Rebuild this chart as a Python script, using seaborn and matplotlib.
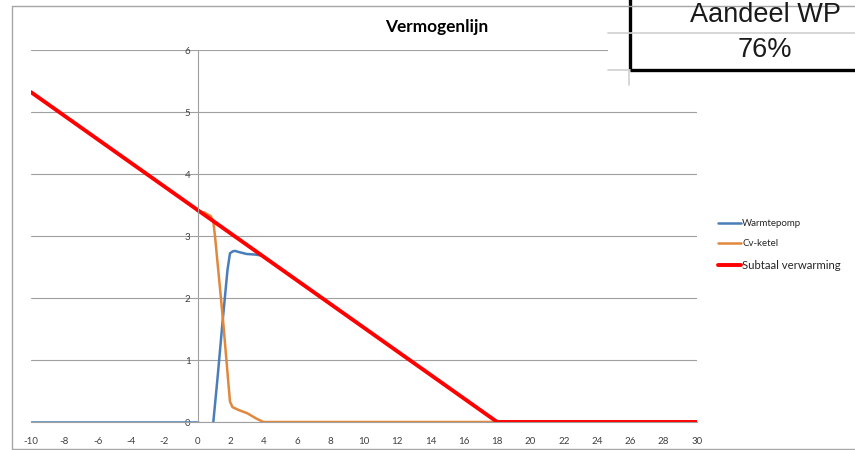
import matplotlib
matplotlib.use("Agg")
import matplotlib.pyplot as plt
from matplotlib.lines import Line2D
from matplotlib.patches import Rectangle
import seaborn as sns

sns.set_theme(style="white")
plt.rcParams['font.family'] = ['Lato', 'DejaVu Sans']

# Warmtepomp (heat pump) - two pieces, gap between 0 and 1
wp_x1 = [-10, 0]
wp_y1 = [0, 0]
wp_x2 = [0.95, 1.2, 1.5, 1.8, 1.95, 2.1, 2.25, 2.5, 2.95, 3.5, 3.95]
wp_y2 = [0.0, 0.7, 1.6, 2.45, 2.72, 2.75, 2.76, 2.74, 2.71, 2.70, 2.68]

# Cv-ketel (boiler)
cv_x = [0, 0.4, 0.8, 0.95, 1.05, 1.3, 1.55, 1.8, 1.95, 2.1, 2.5, 3.0, 3.5, 3.95, 5, 10, 18, 30]
cv_y = [3.40, 3.38, 3.32, 3.23, 3.00, 2.30, 1.59, 0.80, 0.33, 0.24, 0.19, 0.14, 0.06, 0.0, 0.0, 0.0, 0.0, 0.0]

# Subtaal verwarming
sub_x = [-10, -5, 0, 5, 10, 15, 17, 18, 19, 30]
sub_y = [5.32, 4.37, 3.42, 2.47, 1.52, 0.57, 0.19, 0.0, 0.0, 0.0]

x_ticks = list(range(-10, 31, 2))
y_ticks = [0, 1, 2, 3, 4, 5, 6]

BLUE = '#4A7EBB'
ORANGE = '#E2883C'
RED = '#FF0000'
GRID = '#A0A0A0'
CELL = '#D0D0D0'

fig = plt.figure(figsize=(8.55, 4.5), dpi=100)
ax = fig.add_axes([31 / 855, 28 / 450, 666 / 855, 372 / 450])

sns.lineplot(x=wp_x1, y=wp_y1, color=BLUE, lw=1.8, sort=False, estimator=None, ax=ax)
sns.lineplot(x=wp_x2, y=wp_y2, color=BLUE, lw=1.8, sort=False, estimator=None, ax=ax)
sns.lineplot(x=cv_x, y=cv_y, color=ORANGE, lw=1.8, sort=False, estimator=None, ax=ax)
sns.lineplot(x=sub_x, y=sub_y, color=RED, lw=2.8, sort=False, estimator=None, ax=ax)

ax.set_xlim(-10, 30)
ax.set_ylim(0, 6)
ax.set_xticks(x_ticks)
ax.set_yticks(y_ticks)
ax.set_xticklabels([str(v) for v in x_ticks])
ax.set_yticklabels([str(v) for v in y_ticks])
ax.yaxis.grid(True, color=GRID, lw=0.8)
ax.xaxis.grid(False)
ax.set_axisbelow(True)

for s in ['top', 'right']:
    ax.spines[s].set_visible(False)
ax.spines['left'].set_position(('data', 0))
ax.spines['left'].set_color(GRID)
ax.spines['left'].set_linewidth(0.8)
ax.spines['bottom'].set_color(GRID)
ax.spines['bottom'].set_linewidth(0.8)
ax.tick_params(axis='both', which='both', direction='out', length=3, width=0.8,
               color=GRID, labelsize=7, labelcolor='#404040')
ax.tick_params(axis='x', pad=8)
ax.tick_params(axis='y', pad=2)
ax.set_xlabel('')
ax.set_ylabel('')

fig.text(437 / 855, 1 - 27 / 450, 'Vermogenlijn', ha='center', va='center',
         fontsize=12.4, fontweight='bold', color='#000000')

handles = [Line2D([], [], color=BLUE, lw=1.8),
           Line2D([], [], color=ORANGE, lw=1.8),
           Line2D([], [], color=RED, lw=2.8)]
leg = fig.legend(handles, ['Warmtepomp', 'Cv-ketel', 'Subtaal verwarming'],
                 loc='center left', bbox_to_anchor=(718 / 855, 1 - 245 / 450),
                 frameon=False, fontsize=7, handlelength=2.4, handletextpad=0.1,
                 labelspacing=1.15, borderpad=0, borderaxespad=0)
leg.get_texts()[2].set_fontsize(8.2)

# chart area border
fig.add_artist(Line2D([12 / 855, 12 / 855], [1 / 450, 1 - 6 / 450], color='#A6A6A6', lw=1))
fig.add_artist(Line2D([12 / 855, 1], [1 / 450, 1 / 450], color='#A6A6A6', lw=1))
fig.add_artist(Line2D([12 / 855, 1], [1 - 6 / 450, 1 - 6 / 450], color='#A6A6A6', lw=1))

# spreadsheet cells pasted over the chart
fig.add_artist(Rectangle((608 / 855, 1 - 85 / 450), 247 / 855, 85 / 450,
                         facecolor='white', edgecolor='none'))
fig.add_artist(Line2D([608 / 855, 1], [1 - 33 / 450, 1 - 33 / 450], color=CELL, lw=1.2))
fig.add_artist(Line2D([608 / 855, 630 / 855], [1 - 70 / 450, 1 - 70 / 450], color=CELL, lw=1.2))
fig.add_artist(Line2D([629 / 855, 629 / 855], [1 - 85 / 450, 1 - 70 / 450], color=CELL, lw=1.2))
fig.add_artist(Rectangle((630 / 855, 1 - 69.5 / 450), 230 / 855, 75 / 450,
                         facecolor='none', edgecolor='black', lw=2.4))
fig.text(765 / 855, 1 - 15 / 450, 'Aandeel WP', ha='center', va='center',
         fontsize=19.5, family=['Liberation Sans', 'DejaVu Sans'], color='#1a1a1a')
fig.text(765 / 855, 1 - 50 / 450, '76%', ha='center', va='center',
         fontsize=19.5, family=['Liberation Sans', 'DejaVu Sans'], color='#1a1a1a')

fig.savefig('out.png', dpi=100)
